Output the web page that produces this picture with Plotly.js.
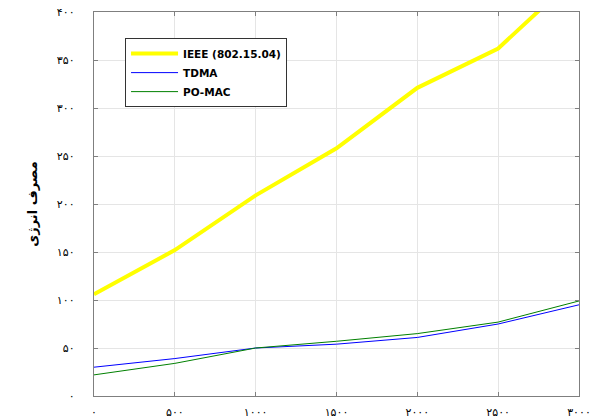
<!DOCTYPE html>
<html>
<head>
<meta charset="utf-8">
<script src="https://cdn.plot.ly/plotly-3.0.1.min.js"></script>
<style>html,body{margin:0;padding:0;background:#fff;}#chart{width:603px;height:420px;}</style>
</head>
<body>
<div id="chart"></div>
<script>
// Data
const nodes = [0, 500, 1000, 1500, 2000, 2500, 3000];
const ieee = [106, 152, 209, 258, 321, 362, 440];
const tdma = [30, 39, 50, 54, 61, 75, 95];
const pomac = [22, 34, 50, 57, 65, 77, 99];
const seriesNames = ["IEEE (802.15.04)", "TDMA", "PO-MAC"];

const xTickVals = [0, 500, 1000, 1500, 2000, 2500, 3000];
const xTickText = ["۰", "۵۰۰", "۱۰۰۰", "۱۵۰۰", "۲۰۰۰", "۲۵۰۰", "۳۰۰۰"];
const yTickVals = [0, 50, 100, 150, 200, 250, 300, 350, 400];
const yTickText = ["۰", "۵۰", "۱۰۰", "۱۵۰", "۲۰۰", "۲۵۰", "۳۰۰", "۳۵۰", "۴۰۰"];
const yTitle = "مصرف انرژی";

const traces = [
  {x: nodes, y: ieee, name: seriesNames[0], mode: "lines", line: {color: "#ffff00", width: 4}},
  {x: nodes, y: tdma, name: seriesNames[1], mode: "lines", line: {color: "#0000ff", width: 1}},
  {x: nodes, y: pomac, name: seriesNames[2], mode: "lines", line: {color: "#008000", width: 1}}
];

const axisCommon = {
  showline: true, linecolor: "#7f7f7f", linewidth: 1.2, mirror: "ticks",
  ticks: "inside", ticklen: 4, tickcolor: "#7f7f7f",
  showgrid: true, gridcolor: "#e5e5e5", gridwidth: 1, zeroline: false,
  tickfont: {family: "DejaVu Sans", size: 11, color: "#000"}
};

const layout = {
  width: 603, height: 420,
  margin: {l: 94, r: 24, t: 12, b: 24},
  paper_bgcolor: "#fff", plot_bgcolor: "#fff",
  showlegend: true,
  legend: {
    x: 0.064, y: 0.932, xanchor: "left", yanchor: "top",
    bgcolor: "#fff", bordercolor: "#333", borderwidth: 1,
    font: {family: "DejaVu Sans", size: 10.5, color: "#000", weight: "bold"},
    tracegroupgap: 0, itemwidth: 47
  },
  xaxis: Object.assign({}, axisCommon, {
    range: [0, 3000], tickmode: "array", tickvals: xTickVals, ticktext: xTickText,
    ticklabelstandoff: 6
  }),
  yaxis: Object.assign({}, axisCommon, {
    range: [0, 400], tickmode: "array", tickvals: yTickVals, ticktext: yTickText,
    ticklabelstandoff: 16,
    title: {text: yTitle, font: {family: "DejaVu Sans", size: 13, color: "#000", weight: "bold"}, standoff: 16}
  })
};

Plotly.newPlot("chart", traces, layout, {displayModeBar: false, staticPlot: true});
</script>
</body>
</html>
